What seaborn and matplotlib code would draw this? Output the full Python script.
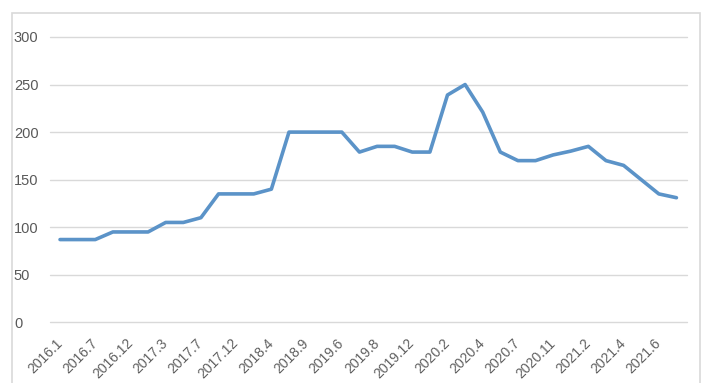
import matplotlib
matplotlib.use("Agg")
import matplotlib.pyplot as plt
import seaborn as sns
import pandas as pd
from matplotlib.patches import Rectangle

# 36 monthly points, only every other one has a visible label
values = [87, 87, 87, 95, 95, 95, 105, 105, 110, 135, 135, 135,
          140, 200, 200, 200, 200, 179, 185, 185, 179, 179, 239, 250,
          221, 179, 170, 170, 176, 180, 185, 170, 165, 150, 135, 131]
tick_labels = ["2016.1", "2016.7", "2016.12", "2017.3", "2017.7", "2017.12",
               "2018.4", "2018.9", "2019.6", "2019.8", "2019.12", "2020.2",
               "2020.4", "2020.7", "2020.11", "2021.2", "2021.4", "2021.6"]
y_ticks = [0, 50, 100, 150, 200, 250, 300]

df = pd.DataFrame({"idx": range(len(values)), "value": values})

sns.set_style("white")
plt.rcParams['font.family'] = ['Liberation Sans', 'DejaVu Sans']

fig = plt.figure(figsize=(7.15, 3.83), dpi=100)
ax = fig.add_axes([50 / 715, 1 - 322.3 / 383, (687 - 50) / 715, (322.3 - 37) / 383])

# light frame round the chart area, as in the Excel export
fig.patches.append(Rectangle((11.7 / 715, -0.05), (700 - 11.7) / 715, 1.05 - 13.3 / 383,
                             transform=fig.transFigure, fill=False,
                             edgecolor="#d9d9d9", linewidth=1.2))

sns.lineplot(data=df, x="idx", y="value", ax=ax, color="#5b93c8", linewidth=2.6)

ax.set_xlim(-0.57, 35.6)
ax.set_ylim(0, 300)
ax.set_yticks(y_ticks)
for y in y_ticks:
    ax.axhline(y, color="#d9d9d9", linewidth=1, zorder=0, clip_on=False)

ax.set_xticks(range(0, len(values), 2))
ax.set_xticklabels(tick_labels, rotation=45, ha="right", va="center",
                   rotation_mode="anchor", fontsize=10, color="#606060")
ax.tick_params(axis="x", length=0, pad=13.5)
ax.tick_params(axis="y", length=0, pad=26, labelsize=10.5, labelcolor="#595959")
for lab in ax.get_yticklabels():
    lab.set_ha("left")

ax.set_xlabel("")
ax.set_ylabel("")
for s in ax.spines.values():
    s.set_visible(False)
ax.patch.set_alpha(0)

fig.savefig("out.png", dpi=100)
